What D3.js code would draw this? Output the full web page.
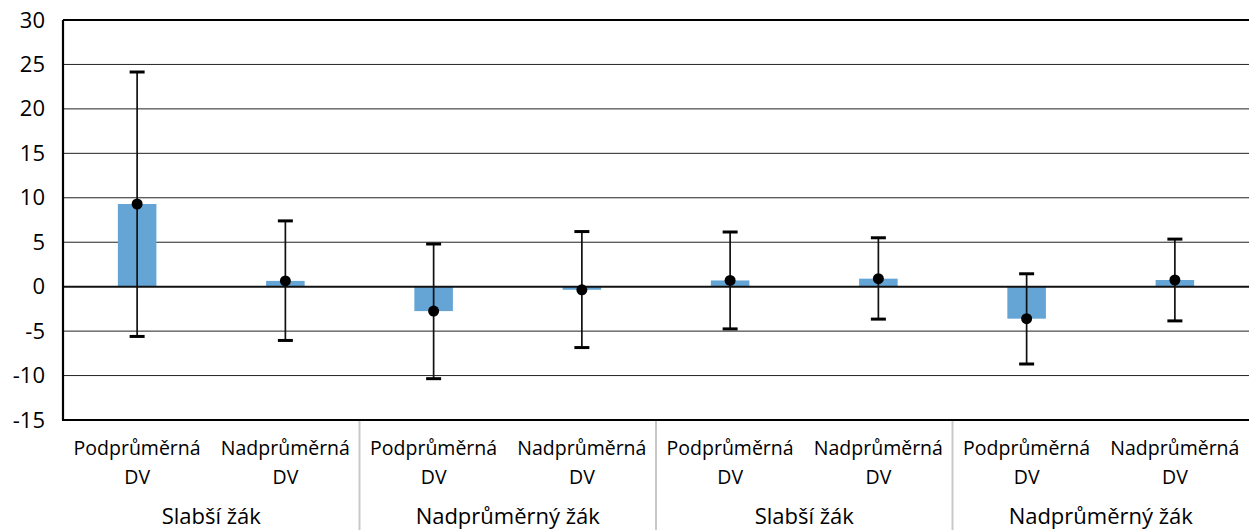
<!DOCTYPE html>
<html>
<head>
<meta charset="utf-8">
<script src="https://cdn.jsdelivr.net/npm/d3@7"></script>
<style>
  body { margin: 0; background: #fff; }
  svg { display: block; font-family: "Open Sans", "Noto Sans", sans-serif; }
</style>
</head>
<body>
<svg id="chart" width="1250" height="530"></svg>
<script>
// Category labels: inner (DV level) and outer (pupil type)
const innerLabels = ["Podprůměrná", "Nadprůměrná", "Podprůměrná", "Nadprůměrná",
                     "Podprůměrná", "Nadprůměrná", "Podprůměrná", "Nadprůměrná"];
const groupLabels = ["Slabší žák", "Nadprůměrný žák", "Slabší žák", "Nadprůměrný žák"];

// Mean difference and its confidence interval per category
const means = [9.3, 0.65, -2.75, -0.35, 0.7, 0.9, -3.6, 0.75];
const upper = [24.15, 7.4, 4.8, 6.2, 6.15, 5.5, 1.45, 5.35];
const lower = [-5.6, -6.05, -10.35, -6.85, -4.75, -3.65, -8.7, -3.85];

const yTicks = [-15, -10, -5, 0, 5, 10, 15, 20, 25, 30];

const svg = d3.select("#chart");
const m = { left: 63, right: 1249, top: 20, bottom: 420 };

const x = d3.scaleBand().domain(d3.range(innerLabels.length))
  .range([m.left, m.right]).paddingInner(0.74).paddingOuter(0.37);
const y = d3.scaleLinear().domain([-15, 30]).range([m.bottom, m.top]);

// Horizontal gridlines
svg.append("g").selectAll("line").data(yTicks.filter(t => t !== 0 && t !== -15 && t !== 30))
  .join("line")
  .attr("x1", m.left).attr("x2", m.right)
  .attr("y1", d => y(d)).attr("y2", d => y(d))
  .attr("stroke", "#222").attr("stroke-width", 1);

// Y axis tick labels (plain hyphen for negatives)
const yAxis = d3.axisLeft(y).tickValues(yTicks).tickSize(0).tickPadding(18)
  .tickFormat(d => String(d));
const ya = svg.append("g").attr("transform", `translate(${m.left},0)`).call(yAxis);
ya.select(".domain").remove();
ya.selectAll("text").attr("font-size", 22).attr("fill", "#000")
  .attr("font-family", "\"Open Sans\", sans-serif");

// Bars (means)
svg.append("g").selectAll("rect").data(means).join("rect")
  .attr("x", (d, i) => x(i))
  .attr("width", x.bandwidth())
  .attr("y", d => y(Math.max(0, d)))
  .attr("height", d => Math.abs(y(d) - y(0)))
  .attr("fill", "#65a5d5");

// Zero line
svg.append("line")
  .attr("x1", m.left).attr("x2", m.right)
  .attr("y1", y(0)).attr("y2", y(0))
  .attr("stroke", "#111").attr("stroke-width", 2);

// Error bars
const cx = i => x(i) + x.bandwidth() / 2;
const eb = svg.append("g");
eb.selectAll("line.v").data(means).join("line").attr("class", "v")
  .attr("x1", (d, i) => cx(i)).attr("x2", (d, i) => cx(i))
  .attr("y1", (d, i) => y(upper[i])).attr("y2", (d, i) => y(lower[i]))
  .attr("stroke", "#111").attr("stroke-width", 1.7);
[upper, lower].forEach(arr => {
  eb.selectAll(null).data(arr).join("line")
    .attr("x1", (d, i) => cx(i) - 7.5).attr("x2", (d, i) => cx(i) + 7.5)
    .attr("y1", d => y(d)).attr("y2", d => y(d))
    .attr("stroke", "#000").attr("stroke-width", 3);
});
eb.selectAll("circle").data(means).join("circle")
  .attr("cx", (d, i) => cx(i)).attr("cy", d => y(d))
  .attr("r", 5.5).attr("fill", "#000");

// Plot frame: left axis, top and bottom
svg.append("line").attr("x1", m.left).attr("x2", m.left)
  .attr("y1", m.top).attr("y2", m.bottom).attr("stroke", "#000").attr("stroke-width", 2.2);
svg.append("line").attr("x1", m.left).attr("x2", m.right)
  .attr("y1", m.top).attr("y2", m.top).attr("stroke", "#000").attr("stroke-width", 2);
svg.append("line").attr("x1", m.left - 1).attr("x2", m.right)
  .attr("y1", m.bottom).attr("y2", m.bottom).attr("stroke", "#000").attr("stroke-width", 2.2);

// Category labels (two lines)
const cl = svg.append("g").attr("font-size", 19.5).attr("text-anchor", "middle").attr("fill", "#000");
innerLabels.forEach((t, i) => {
  const tx = cl.append("text").attr("x", cx(i)).attr("y", 455);
  tx.append("tspan").attr("x", cx(i)).text(t);
  tx.append("tspan").attr("x", cx(i)).attr("dy", 29).text("DV");
});

// Group labels and separators
const groupW = (m.right - m.left) / groupLabels.length;
groupLabels.forEach((t, g) => {
  svg.append("text").attr("x", m.left + groupW * (g + 0.5)).attr("y", 524)
    .attr("text-anchor", "middle").attr("font-size", 22).attr("fill", "#000").text(t);
  if (g > 0) {
    svg.append("line").attr("x1", m.left + groupW * g).attr("x2", m.left + groupW * g)
      .attr("y1", m.bottom + 1).attr("y2", 530).attr("stroke", "#c8c8c8").attr("stroke-width", 2);
  }
});
</script>
</body>
</html>
